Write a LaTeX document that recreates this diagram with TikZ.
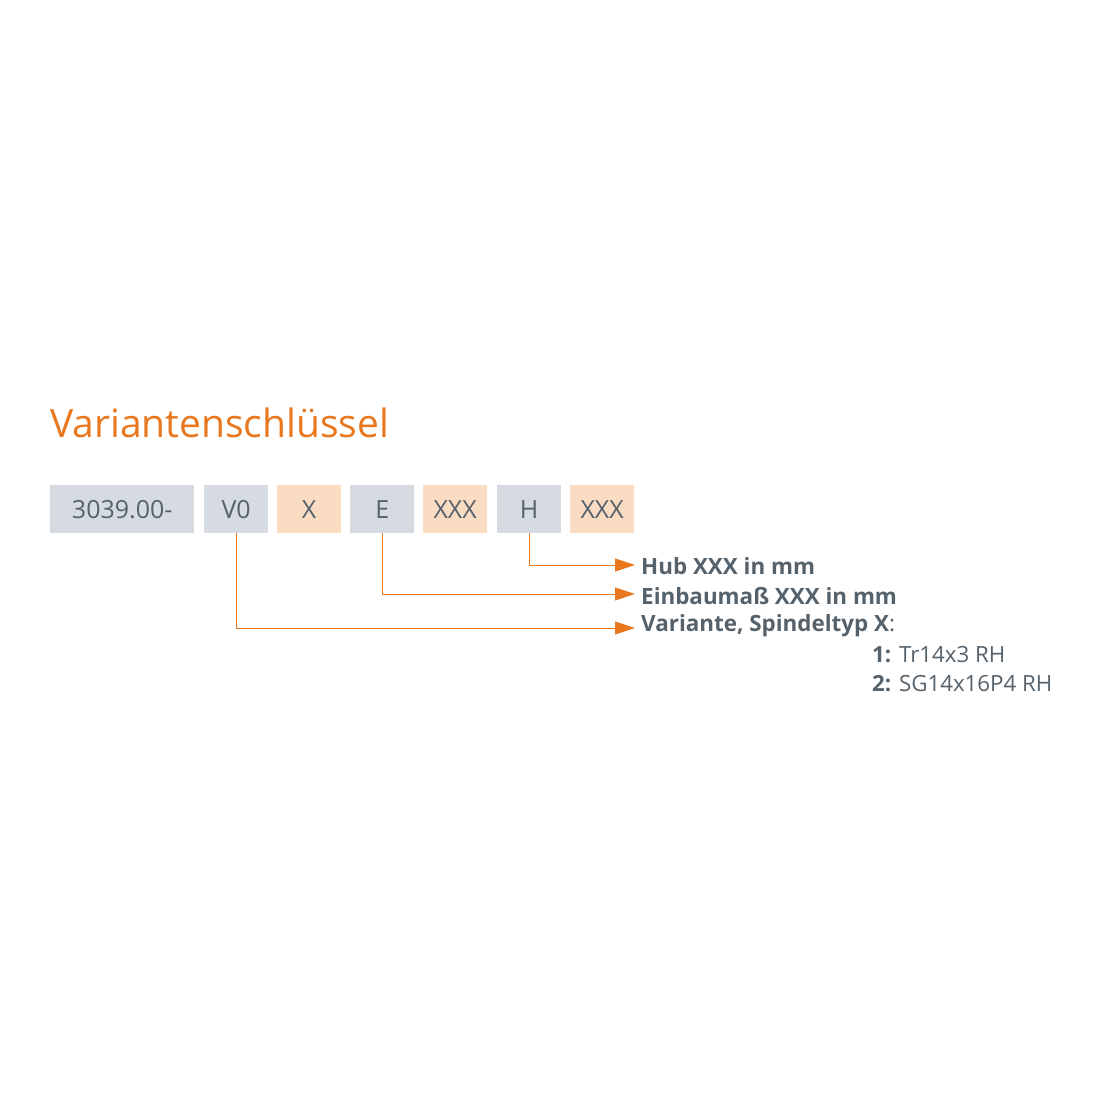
\documentclass[tikz,border=0pt]{standalone}
\usepackage{fontspec}
\setmainfont{Open Sans}
\usetikzlibrary{arrows.meta}
\definecolor{korange}{HTML}{E8771E}
\definecolor{ktext}{HTML}{56626B}
\definecolor{kgray}{HTML}{D5DBE1}
\definecolor{kpeach}{HTML}{FADCC3}
\tikzset{
  keybox/.style={minimum height=48pt, inner sep=0pt, text=ktext, font=\fontsize{25}{30}\selectfont, anchor=north west},
  graybox/.style={keybox, fill=kgray},
  peachbox/.style={keybox, fill=kpeach},
  conn/.style={draw=korange, line width=1pt, -{Triangle[length=20pt,width=13pt]}},
  lbl/.style={anchor=west, inner sep=0pt, text=ktext, font=\fontsize{22.4}{26}\selectfont\bfseries},
  sub/.style={anchor=west, inner sep=0pt, text=ktext, font=\fontsize{22.3}{26}\selectfont},
}
\begin{document}
\begin{tikzpicture}[x=1pt,y=-1pt]
\useasboundingbox (0,0) rectangle (1100,1100);
\node[anchor=base west, inner sep=0pt, text=korange, font=\fontsize{39}{46}\selectfont] (title) at (50,437) {Variantenschlüssel};
\node[graybox, minimum width=144pt] (b1) at (50,485) {3039.00-};
\node[graybox, minimum width=64pt] (b2) at (204,485) {V0};
\node[peachbox, minimum width=64pt] (b3) at (277,485) {X};
\node[graybox, minimum width=64pt] (b4) at (350,485) {E};
\node[peachbox, minimum width=64pt] (b5) at (423,485) {XXX};
\node[graybox, minimum width=64pt] (b6) at (497,485) {H};
\node[peachbox, minimum width=64pt] (b7) at (570,485) {XXX};
\node[lbl] (l1) at (641,566) {Hub XXX in mm};
\node[lbl] (l2) at (641,596) {Einbaumaß XXX in mm};
\node[lbl] (l3) at (641,626) {Variante, Spindeltyp X\textmd{:}};
\node[sub] (s1) at (872,655) {\textbf{1:} Tr14x3 RH};
\node[sub] (s2) at (872,684) {\textbf{2:} SG14x16P4 RH};
\coordinate (a1) at (635,565);
\coordinate (a2) at (635,594);
\coordinate (a3) at (635,628);
\draw[conn] (b6.south) |- (a1);
\draw[conn] (b4.south) |- (a2);
\draw[conn] (b2.south) |- (a3);
\end{tikzpicture}
\end{document}
